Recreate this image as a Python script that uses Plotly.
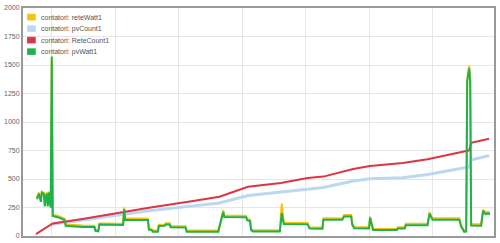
import plotly.graph_objects as go

# time axis in hours from first gridline
watt_t = [-0.234,-0.203,-0.172,-0.156,-0.125,-0.109,-0.094,-0.078,-0.063,-0.047,-0.031,-0.016,
          0.000,0.016,0.094,0.172,0.203,0.219,0.328,0.484,0.672,0.688,0.734,0.750,
          1.125,1.141,1.156,1.516,1.531,1.578,1.594,1.672,1.688,1.781,1.797,1.859,
          1.875,2.109,2.125,2.625,2.656,2.703,2.719,3.063,3.078,3.125,3.141,3.172,
          3.594,3.625,3.656,4.031,4.063,4.266,4.281,4.578,4.609,4.719,4.734,4.766,
          5.000,5.016,5.063,5.438,5.453,5.563,5.578,5.922,5.953,6.000,6.422,6.453,
          6.500,6.531,6.547,6.578,6.594,6.609,6.766,6.797,6.828,6.844,6.875,6.906]

pv_watt = [324,370,300,380,370,260,340,370,260,380,300,250,
           1575,175,165,150,140,90,85,80,78,45,40,100,
           97,235,143,140,55,50,38,38,88,90,100,100,
           76,74,38,38,110,210,166,165,138,130,52,40,
           40,200,105,102,66,64,143,142,172,172,100,68,
           66,160,52,52,66,66,95,95,195,143,143,80,
           37,40,1360,1470,1360,92,90,220,195,190,200,190]

rete_watt = [334,382,312,390,380,272,350,382,272,390,312,262,
             1560,185,177,162,152,100,95,92,90,55,50,110,
             108,250,155,152,65,60,48,48,98,100,112,112,
             86,85,48,48,120,225,178,177,150,142,62,50,
             50,285,117,114,76,75,155,153,184,184,112,78,
             77,170,62,62,77,77,107,107,208,155,155,92,
             47,50,1375,1495,1375,104,102,232,212,208,212,205]

rete_count_t = [-0.25,0.016,0.484,1.0,1.531,2.203,2.641,3.094,3.609,4.031,4.281,4.75,5.016,5.531,5.922,6.531,6.578,6.609,6.891]
rete_count = [17,110,150,200,248,305,345,432,465,508,521,588,614,640,673,745,750,818,853]

pv_count_t = [-0.016,0.484,1.0,1.531,2.203,2.641,3.094,3.609,4.031,4.281,4.75,5.016,5.531,5.922,6.531,6.578,6.609,6.891]
pv_count = [100,140,185,222,262,290,355,382,410,425,482,502,512,540,602,606,667,706]

y_ticks = [0, 250, 500, 750, 1000, 1250, 1500, 1750, 2000]

names = ["contatori: reteWatt1", "contatori: pvCount1", "contatori: ReteCount1", "contatori: pvWatt1"]
colors = ["#f2c40f", "#bcd7f0", "#dc3545", "#1fb14a"]

fig = go.Figure()
fig.add_trace(go.Scatter(x=watt_t, y=rete_watt, mode="lines", line=dict(color=colors[0], width=2), name=names[0]))
fig.add_trace(go.Scatter(x=pv_count_t, y=pv_count, mode="lines", line=dict(color=colors[1], width=3), name=names[1]))
fig.add_trace(go.Scatter(x=rete_count_t, y=rete_count, mode="lines", line=dict(color=colors[2], width=2), name=names[2]))
fig.add_trace(go.Scatter(x=watt_t, y=pv_watt, mode="lines", line=dict(color=colors[3], width=2), name=names[3]))

W, H = 500, 243
L, R, T, B = 20, 5, 7, 4
pw, ph = W - L - R, H - T - B

shapes = []
annotations = []
for i, (n, c) in enumerate(zip(names, colors)):
    yc = 16.3 + i * 11.7
    shapes.append(dict(type="rect", xref="paper", yref="paper",
                       x0=(24 - L) / pw, x1=(33 - L) / pw,
                       y0=(H - B - (yc + 3.5)) / ph, y1=(H - B - (yc - 3.5)) / ph,
                       fillcolor=c, line=dict(width=0.5, color="rgba(255,255,255,0.6)")))
    annotations.append(dict(xref="paper", yref="paper", x=(36 - L) / pw, y=(H - B - yc) / ph,
                            text=n, showarrow=False, xanchor="left", yanchor="middle",
                            font=dict(size=7, color="#555555", family="Liberation Sans, Arial")))

fig.update_layout(
    width=W, height=H,
    margin=dict(l=L, r=R, t=T, b=B),
    paper_bgcolor="white", plot_bgcolor="white",
    showlegend=False,
    shapes=shapes, annotations=annotations,
    font=dict(family="Liberation Sans, Arial", size=7, color="#666666"),
    xaxis=dict(range=[-0.453, 6.969], tick0=0, dtick=1, showticklabels=False,
               showgrid=True, gridcolor="#e6e6e6", gridwidth=1, zeroline=False,
               showline=True, linecolor="#999999", linewidth=2, mirror=True, ticks=""),
    yaxis=dict(range=[0, 2000], tickvals=y_ticks, ticktext=[str(v) for v in y_ticks],
               showgrid=True, gridcolor="#e6e6e6", gridwidth=1, zeroline=False,
               showline=True, linecolor="#999999", linewidth=2, mirror=True, ticks="",
               tickfont=dict(size=7, color="#666666")),
)

fig.write_html("out.html")
